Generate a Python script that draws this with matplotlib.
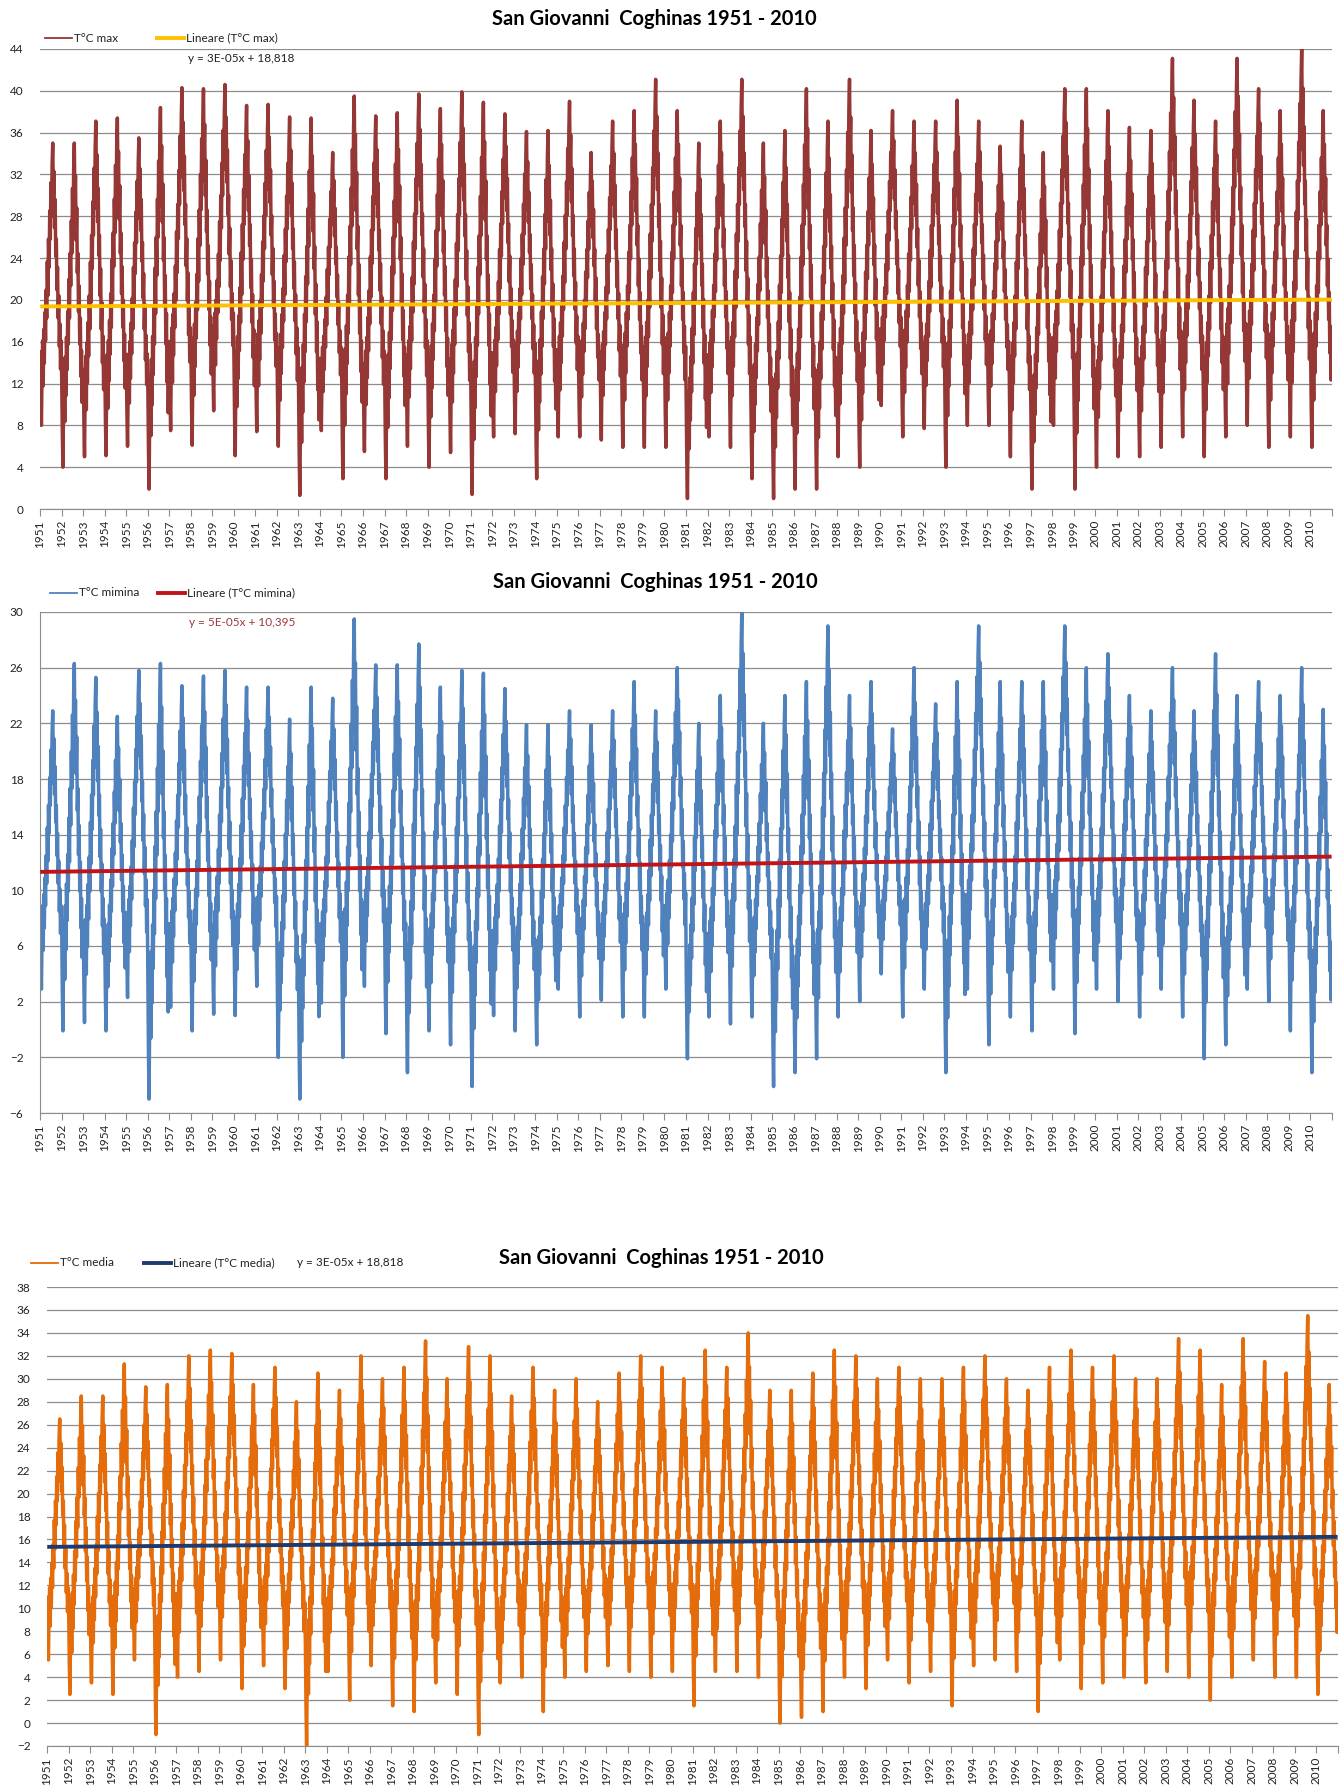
import numpy as np
import matplotlib.pyplot as plt
import matplotlib.dates as mdates
from matplotlib.lines import Line2D
from datetime import date

plt.rcParams['font.family'] = ['Lato', 'DejaVu Sans']

YEARS = list(range(1951, 2011))

# annual highest / lowest values of each series (degrees C)
TMAX_PEAK = [35.0, 35.0, 37.1, 37.4, 35.5, 38.4, 40.3, 40.2, 40.6, 38.6,
             38.7, 37.5, 37.4, 34.1, 39.5, 37.6, 37.9, 39.7, 38.3, 39.9,
             38.9, 37.8, 36.1, 36.2, 39.0, 34.1, 37.1, 38.1, 41.1, 38.1,
             35.0, 37.1, 41.1, 35.0, 36.2, 40.2, 37.1, 41.1, 36.2, 38.1,
             37.1, 37.1, 39.1, 37.1, 34.7, 37.1, 34.1, 40.2, 40.2, 38.1,
             36.5, 36.2, 43.1, 39.1, 37.1, 43.1, 40.2, 38.1, 44.0, 38.1]
TMAX_LOW = [8.0, 4.0, 5.0, 5.1, 6.0, 1.9, 7.5, 6.1, 9.4, 5.1,
            7.4, 6.0, 1.3, 7.5, 2.9, 5.5, 2.9, 6.0, 4.0, 5.4,
            1.4, 6.9, 7.2, 2.9, 6.9, 6.9, 6.6, 5.9, 5.9, 5.9,
            1.0, 6.9, 5.9, 2.9, 1.0, 1.9, 1.9, 5.0, 4.0, 9.9,
            6.9, 7.7, 4.0, 8.0, 8.0, 5.0, 1.9, 8.0, 1.9, 4.0,
            5.0, 5.0, 5.9, 6.9, 5.0, 6.9, 8.0, 5.9, 6.9, 5.9]

TMIN_PEAK = [22.9, 26.3, 25.3, 22.5, 25.8, 26.3, 24.7, 25.4, 25.8, 24.6,
             24.6, 22.3, 24.6, 23.8, 29.5, 26.2, 26.2, 27.7, 24.6, 25.8,
             25.6, 24.5, 21.9, 21.9, 22.9, 21.9, 22.9, 25.0, 22.9, 26.0,
             22.0, 24.0, 30.0, 22.0, 24.0, 25.0, 29.0, 24.0, 25.0, 21.6,
             26.0, 23.4, 25.0, 29.0, 25.0, 25.0, 25.0, 29.0, 26.0, 27.0,
             24.0, 22.9, 26.0, 22.9, 27.0, 24.0, 25.0, 24.0, 26.0, 23.0]
TMIN_LOW = [2.9, -0.1, 0.5, -0.1, 2.3, -5.0, 1.6, -0.1, 1.1, 1.0,
            3.1, -2.0, -5.0, 1.9, -2.0, 3.1, -0.3, -3.1, -0.1, -1.1,
            -4.1, 1.0, -0.1, -1.1, 2.9, 0.9, 2.1, 0.9, 0.9, 2.9,
            -2.1, 0.9, 0.4, 0.9, -4.1, -3.1, -2.1, 0.9, 2.0, 4.0,
            0.9, 2.9, -3.1, 2.9, -1.1, 0.9, -0.1, 2.9, -0.3, 2.9,
            2.0, 0.9, 2.9, 0.9, -2.1, -1.1, 2.9, 2.0, -0.1, -3.1]

TMED_PEAK = [26.5, 28.5, 28.5, 31.3, 29.3, 29.5, 32.0, 32.5, 32.2, 29.5,
             31.0, 28.0, 30.5, 29.0, 32.0, 30.0, 31.0, 33.3, 30.0, 32.8,
             32.0, 28.5, 31.0, 29.0, 30.0, 28.0, 30.5, 32.0, 31.0, 30.0,
             32.5, 31.0, 34.0, 29.0, 29.0, 30.5, 32.5, 32.0, 30.0, 31.0,
             30.0, 30.0, 31.0, 32.0, 30.0, 29.0, 31.0, 32.5, 31.0, 32.0,
             30.0, 30.0, 33.5, 32.5, 29.5, 33.5, 31.5, 30.5, 35.5, 29.5]
TMED_LOW = [5.5, 2.5, 3.5, 2.5, 5.5, -1.0, 4.0, 4.5, 5.5, 3.0,
            5.0, 3.0, -2.0, 4.5, 2.0, 5.0, 1.5, 1.0, 3.5, 2.5,
            -1.0, 3.5, 4.0, 1.0, 4.0, 4.5, 5.0, 4.5, 4.0, 4.5,
            1.5, 4.5, 4.5, 4.0, 0.0, 0.5, 1.0, 4.0, 3.0, 5.5,
            3.5, 4.5, 1.5, 5.0, 5.5, 4.5, 1.0, 5.5, 3.0, 3.5,
            4.0, 3.5, 4.5, 4.0, 2.0, 4.0, 5.5, 4.0, 4.0, 2.5]

# typical position of each dekad between the winter low (0) and summer high (1)
DEKAD_PROFILE = [0.26, 0.10, 0.00, 0.20, 0.30, 0.14,
                 0.34, 0.22, 0.40, 0.30, 0.48, 0.38,
                 0.58, 0.46, 0.66, 0.56, 0.76, 0.66,
                 0.86, 0.74, 0.92, 1.00, 0.82, 0.90,
                 0.70, 0.80, 0.60, 0.66, 0.48, 0.56,
                 0.38, 0.46, 0.28, 0.36, 0.20, 0.30]

# linear trends, x = Excel date serial
TREND_MAX = (3e-05, 18.818)
TREND_MIN = (5e-05, 10.395)
TREND_MED = (4e-05, 14.607)

TITLE = 'San Giovanni  Coghinas 1951 - 2010'

W, H = 1343, 1787
fig = plt.figure(figsize=(W / 100, H / 100), dpi=100)
EXCEL_EPOCH = mdates.date2num(date(1899, 12, 30))
GRID = '#8c8c8c'


def fx(x):
    return x / W


def fy(y):
    return 1 - y / H


def build_series(peaks, lows):
    xs, ys = [], []
    for yr, hi, lo in zip(YEARS, peaks, lows):
        xs += [date(yr, m, d) for m in range(1, 13) for d in (5, 15, 25)]
        ys += [lo + p * (hi - lo) for p in DEKAD_PROFILE]
    return mdates.date2num(xs), np.array(ys)


def panel(left, top, right, bottom, peaks, lows, trend, color, tcolor,
          ylim, ystep, left_spine=False):
    ax = fig.add_axes([fx(left), fy(bottom), fx(right - left), (bottom - top) / H])
    x, y = build_series(peaks, lows)
    ax.plot(x, y, color=color, lw=2.5, zorder=2)
    xt = np.array([x[0], x[-1]])
    a, b = trend
    ax.plot(xt, a * (xt - EXCEL_EPOCH) + b, color=tcolor, lw=2.8, zorder=3,
            solid_capstyle='butt')

    ticks = [mdates.date2num(date(yr, 1, 1)) for yr in range(1951, 2012)]
    ax.set_xlim(ticks[0], ticks[-1])
    ax.set_ylim(*ylim)
    ax.set_yticks(np.arange(ylim[0], ylim[1] + 0.01, ystep))
    ax.set_xticks(ticks)
    ax.set_xticklabels([str(yr) for yr in YEARS] + [''], rotation=90)
    ax.yaxis.grid(True, color=GRID, lw=0.9)
    ax.set_axisbelow(True)
    for s in ('top', 'right'):
        ax.spines[s].set_visible(False)
    ax.spines['left'].set_visible(left_spine)
    ax.spines['left'].set_color(GRID)
    ax.spines['bottom'].set_color(GRID)
    ax.tick_params(axis='x', direction='out', length=5, color=GRID, pad=3,
                   labelsize=8.5, labelcolor='#222222')
    ax.tick_params(axis='y', length=0, pad=12, labelsize=8.5, labelcolor='#222222')
    return ax


def legend_item(x0, y, color, lw, label):
    fig.add_artist(Line2D([fx(x0), fx(x0 + 27)], [fy(y), fy(y)], color=color, lw=lw))
    fig.text(fx(x0 + 29), fy(y), label, fontsize=8.5, va='center', ha='left',
             color='#222222')


# maximum temperature
panel(40, 49, 1332, 509, TMAX_PEAK, TMAX_LOW, TREND_MAX, '#953735', '#FFC000',
      (0, 44), 4)
fig.text(fx(654), fy(19), TITLE, fontsize=14.5, fontweight='bold', ha='center', va='center')
legend_item(45, 38, '#953735', 1.3, 'T°C max')
legend_item(157, 38, '#FFC000', 2.8, 'Lineare (T°C max)')
fig.text(fx(188), fy(59), 'y = 3E-05x + 18,818', fontsize=8.5, va='center', color='#222222')

# minimum temperature
panel(40, 612, 1332, 1113, TMIN_PEAK, TMIN_LOW, TREND_MIN, '#4F81BD', '#C0141B',
      (-6, 30), 4, left_spine=True)
fig.text(fx(655), fy(582), TITLE, fontsize=14.5, fontweight='bold', ha='center', va='center')
legend_item(50, 593, '#4F81BD', 1.3, 'T°C mimina')
legend_item(158, 593, '#C0141B', 2.8, 'Lineare (T°C mimina)')
fig.text(fx(189), fy(623), 'y = 5E-05x + 10,395', fontsize=8.5, va='center', color='#9B3A3A')

# mean temperature
panel(47, 1287, 1338, 1746, TMED_PEAK, TMED_LOW, TREND_MED, '#E46C0A', '#1F3A6E',
      (-2, 38), 2)
fig.text(fx(661), fy(1258), TITLE, fontsize=14.5, fontweight='bold', ha='center', va='center')
legend_item(31, 1263, '#E46C0A', 1.3, 'T°C media')
legend_item(144, 1263, '#1F3A6E', 2.8, 'Lineare (T°C media)')
fig.text(fx(297), fy(1263), 'y = 3E-05x + 18,818', fontsize=8.5, va='center', color='#222222')

fig.savefig('out.png', dpi=100, facecolor='white')
